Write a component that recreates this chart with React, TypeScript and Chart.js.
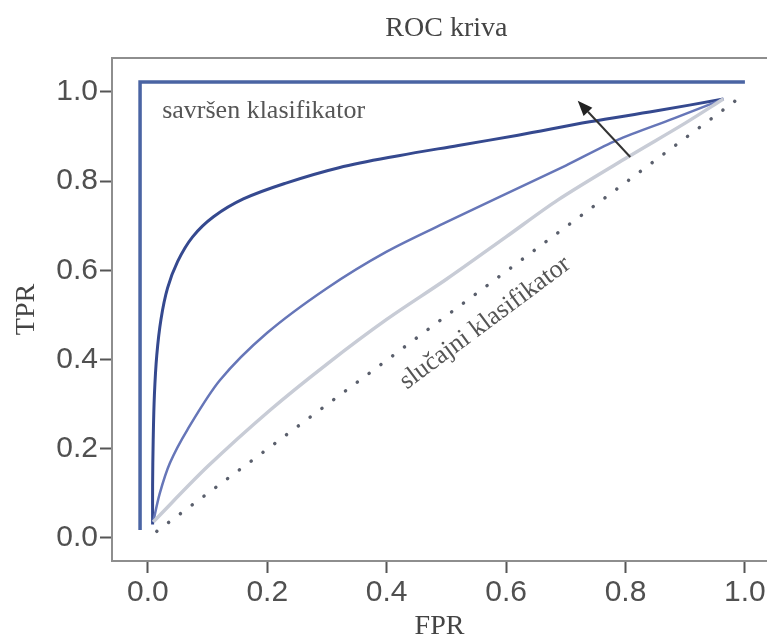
import { useEffect, useRef } from "react";
import { Chart, registerables } from "chart.js";

Chart.register(...registerables);

// ---- data ----
const xTickValues = [0, 0.2, 0.4, 0.6, 0.8, 1.0];
const yTickValues = [0, 0.2, 0.4, 0.6, 0.8, 1.0];

const chartTitle = "ROC kriva";
const xTitle = "FPR";
const yTitle = "TPR";
const perfectLabel = "savršen klasifikator";
const randomLabel = "slučajni klasifikator";

// perfect classifier
const perfectFPR = [-0.013, -0.013, 1.0];
const perfectTPR = [0.018, 1.022, 1.022];

// strong classifier (dark blue)
const strongFPR = [0.008, 0.008, 0.009, 0.011, 0.015, 0.022, 0.033, 0.05, 0.075, 0.11, 0.16, 0.23, 0.32, 0.42, 0.52, 0.62, 0.74, 0.85, 0.964];
const strongTPR = [0.03, 0.12, 0.22, 0.32, 0.41, 0.49, 0.56, 0.62, 0.675, 0.72, 0.76, 0.795, 0.83, 0.857, 0.88, 0.903, 0.933, 0.957, 0.984];

// medium classifier (medium blue)
const mediumFPR = [0.009, 0.02, 0.037, 0.066, 0.121, 0.2, 0.3, 0.4, 0.5, 0.59, 0.7, 0.786, 0.88, 0.964];
const mediumTPR = [0.036, 0.1, 0.168, 0.242, 0.354, 0.46, 0.56, 0.642, 0.708, 0.765, 0.835, 0.892, 0.94, 0.984];

// weak classifier (light grey)
const weakFPR = [0.009, 0.1, 0.205, 0.3, 0.4, 0.5, 0.6, 0.687, 0.804, 0.9, 0.964];
const weakTPR = [0.036, 0.16, 0.287, 0.39, 0.49, 0.58, 0.675, 0.758, 0.854, 0.93, 0.984];

// random classifier (dotted diagonal)
const randomFPR = [0.015, 0.997];
const randomTPR = [0.015, 0.993];

// arrow (tail -> head)
const arrowFPR = [0.808, 0.72];
const arrowTPR = [0.854, 0.98];

// annotation anchors (data coordinates)
const perfectLabelAt = { x: 0.024, y: 0.942 };
const randomLabelAt = { x: 0.565, y: 0.482 };

const pts = (xs: number[], ys: number[]) => xs.map((x, i) => ({ x, y: ys[i] }));

const SERIF = "'Liberation Serif', 'Times New Roman', serif";
const SANS = "'Liberation Sans', Arial, sans-serif";

const overlay = {
  id: "overlay",
  afterDatasetsDraw(chart: any) {
    const { ctx, chartArea, scales } = chart;
    const sx = scales.x;
    const sy = scales.y;
    ctx.save();
    // top frame line
    ctx.strokeStyle = "#8e8e8e";
    ctx.lineWidth = 2;
    ctx.beginPath();
    ctx.moveTo(chartArea.left - 1, chartArea.top);
    ctx.lineTo(chartArea.right, chartArea.top);
    ctx.stroke();

    // title
    ctx.fillStyle = "#444";
    ctx.font = `28px ${SERIF}`;
    ctx.textAlign = "center";
    ctx.textBaseline = "alphabetic";
    ctx.fillText(chartTitle, sx.getPixelForValue(0.5), 36);

    // perfect label
    ctx.fillStyle = "#555";
    ctx.font = `26px ${SERIF}`;
    ctx.textAlign = "left";
    ctx.fillText(perfectLabel, sx.getPixelForValue(perfectLabelAt.x), sy.getPixelForValue(perfectLabelAt.y));

    // random label (rotated along diagonal)
    const ax = sx.getPixelForValue(randomFPR[0]);
    const ay = sy.getPixelForValue(randomTPR[0]);
    const bx = sx.getPixelForValue(randomFPR[1]);
    const by = sy.getPixelForValue(randomTPR[1]);
    const ang = Math.atan2(by - ay, bx - ax);
    ctx.save();
    ctx.translate(sx.getPixelForValue(randomLabelAt.x), sy.getPixelForValue(randomLabelAt.y));
    ctx.rotate(ang);
    ctx.textAlign = "center";
    ctx.textBaseline = "middle";
    ctx.fillText(randomLabel, 0, 0);
    ctx.restore();

    // arrow
    const tx = sx.getPixelForValue(arrowFPR[0]);
    const ty = sy.getPixelForValue(arrowTPR[0]);
    const hx = sx.getPixelForValue(arrowFPR[1]);
    const hy = sy.getPixelForValue(arrowTPR[1]);
    const a = Math.atan2(hy - ty, hx - tx);
    const headLen = 15;
    const headW = 6;
    const bxp = hx - headLen * Math.cos(a);
    const byp = hy - headLen * Math.sin(a);
    ctx.strokeStyle = "#333";
    ctx.fillStyle = "#222";
    ctx.lineWidth = 2;
    ctx.beginPath();
    ctx.moveTo(tx, ty);
    ctx.lineTo(bxp, byp);
    ctx.stroke();
    ctx.beginPath();
    ctx.moveTo(hx, hy);
    ctx.lineTo(bxp + headW * Math.sin(a), byp - headW * Math.cos(a));
    ctx.lineTo(bxp - headW * Math.sin(a), byp + headW * Math.cos(a));
    ctx.closePath();
    ctx.fill();
    ctx.restore();
  },
};

export default function App() {
  const ref = useRef<HTMLCanvasElement | null>(null);

  useEffect(() => {
    if (!ref.current) return;
    const line = (data: any, color: string, width: number, extra: any = {}) => ({
      data,
      showLine: true,
      borderColor: color,
      backgroundColor: color,
      borderWidth: width,
      pointRadius: 0,
      pointHoverRadius: 0,
      fill: false,
      ...extra,
    });
    const chart = new Chart(ref.current, {
      type: "scatter",
      data: {
        datasets: [
          line(pts(randomFPR, randomTPR), "#5a5f6c", 3.5, { borderDash: [0.1, 14.6], borderCapStyle: "round" }),
          line(pts(weakFPR, weakTPR), "#c8ccd6", 3.5, { tension: 0.3 }),
          line(pts(mediumFPR, mediumTPR), "#6676b8", 2.5, { tension: 0.3 }),
          line(pts(strongFPR, strongTPR), "#35498f", 3, { tension: 0.35 }),
          line(pts(perfectFPR, perfectTPR), "#4a64a3", 3.5, { tension: 0 }),
        ],
      },
      options: {
        animation: false,
        responsive: false,
        events: [],
        layout: { padding: { top: 58, left: 0, right: 0, bottom: 0 } },
        plugins: { legend: { display: false }, tooltip: { enabled: false }, title: { display: false } },
        scales: {
          x: {
            type: "linear",
            min: -0.06,
            max: 1.037,
            afterBuildTicks: (s: any) => {
              s.ticks = xTickValues.map((v) => ({ value: v }));
            },
            afterFit: (s: any) => {
              s.height = 78;
              s.paddingLeft = 0;
              s.paddingRight = 0;
            },
            ticks: {
              callback: (v: any) => Number(v).toFixed(1),
              font: { family: SANS, size: 30 },
              color: "#505050",
              padding: 2,
              maxRotation: 0,
              autoSkip: false,
            },
            grid: { drawOnChartArea: false, drawTicks: true, tickLength: 12, color: "#555", tickWidth: 2 },
            border: { display: true, color: "#8e8e8e", width: 2 },
            title: {
              display: true,
              text: xTitle,
              font: { family: SERIF, size: 28, lineHeight: 0.85 },
              color: "#444",
              padding: { top: 0, bottom: 0 },
            },
          },
          y: {
            type: "linear",
            min: -0.0516,
            max: 1.076,
            afterBuildTicks: (s: any) => {
              s.ticks = yTickValues.map((v) => ({ value: v }));
            },
            afterFit: (s: any) => {
              s.width = 112;
              s.paddingTop = 0;
              s.paddingBottom = 0;
            },
            ticks: {
              callback: (v: any) => Number(v).toFixed(1),
              font: { family: SANS, size: 30 },
              color: "#505050",
              padding: 2,
              autoSkip: false,
            },
            grid: { drawOnChartArea: false, drawTicks: true, tickLength: 12, color: "#555", tickWidth: 2 },
            border: { display: true, color: "#8e8e8e", width: 2 },
            title: {
              display: true,
              text: yTitle,
              font: { family: SERIF, size: 28, lineHeight: 1.2 },
              color: "#444",
              padding: { top: 10, bottom: 0 },
            },
          },
        },
      },
      plugins: [overlay],
    } as any);
    return () => chart.destroy();
  }, []);

  return (
    <div style={{ position: "fixed", left: 0, top: 0, width: 767, height: 639, background: "#fff" }}>
      <canvas ref={ref} width={767} height={639} style={{ display: "block" }} />
    </div>
  );
}
